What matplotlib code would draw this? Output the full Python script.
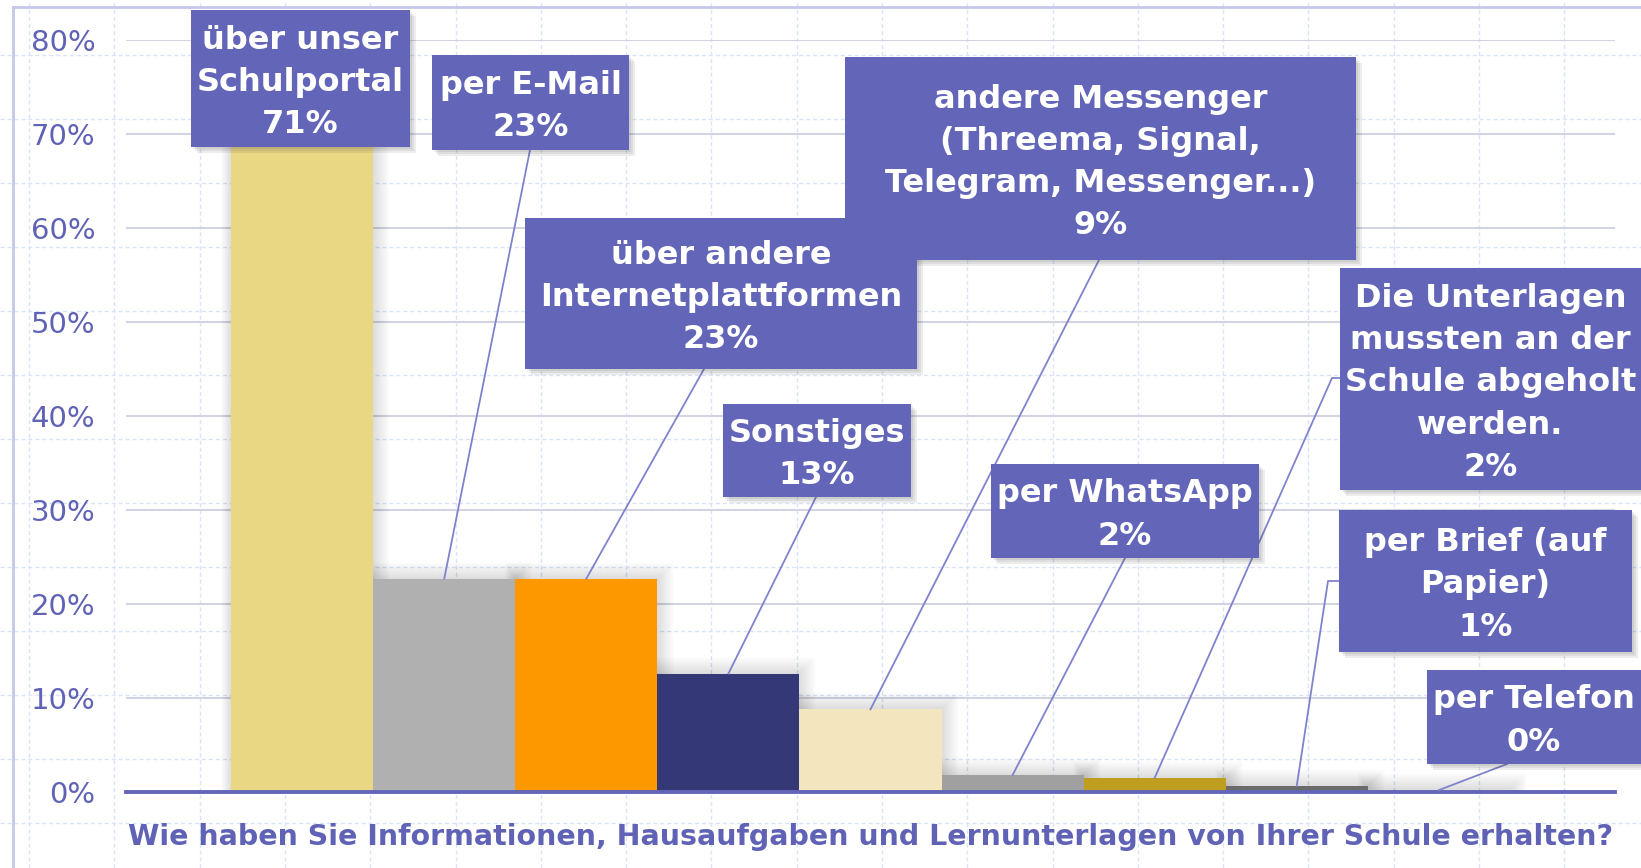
import matplotlib.pyplot as plt
from matplotlib.lines import Line2D
from matplotlib.patches import Rectangle

# -----------------------------------------------------------------------------
# DATA
# -----------------------------------------------------------------------------

categories = [
    "über unser\nSchulportal",
    "per E-Mail",
    "über andere\nInternetplattformen",
    "Sonstiges",
    "andere Messenger\n(Threema, Signal,\nTelegram, Messenger...)",
    "per WhatsApp",
    "Die Unterlagen\nmussten an der\nSchule abgeholt\nwerden.",
    "per Brief (auf\nPapier)",
    "per Telefon",
]
values = [71.0, 22.7, 22.7, 12.6, 8.8, 1.8, 1.5, 0.65, 0.2]
pct_labels = ["71%", "23%", "23%", "13%", "9%", "2%", "2%", "1%", "0%"]
y_ticks = [0, 10, 20, 30, 40, 50, 60, 70, 80]
title = "Wie haben Sie Informationen, Hausaufgaben und Lernunterlagen von Ihrer Schule erhalten?"

# -----------------------------------------------------------------------------
# STYLE / LAYOUT (pixel coords, origin top-left, 1641 x 868)
# -----------------------------------------------------------------------------

W, H = 1641, 868
BAR_COLORS = ["#EAD783", "#B0B0B0", "#FD9800", "#343877", "#F3E6BF",
              "#A0A0A0", "#BF9D1E", "#6B6B6B", "#EBD99A"]
COLOR_BOX = "#6366B8"
COLOR_TEXT = "#6063B5"
COLOR_LEADER = "#7F83CC"
COLOR_GRID = "#D2D3E3"
COLOR_BG_GRID = "#DAE3F7"
FONT = "DejaVu Sans"

# label boxes (x0, y0, x1, y1)
boxes = [
    (191, 10, 410, 147),
    (432, 55, 629, 150),
    (525, 218, 917, 369),
    (723, 404, 911, 497),
    (845, 57, 1356, 260),
    (991, 464, 1259, 558),
    (1340, 268, 1650, 490),
    (1339, 510, 1632, 652),
    (1427, 670, 1650, 764),
]
# leader start on box, optional elbow point
leaders = [
    None,
    [(530, 150)],
    [(704, 369)],
    [(816, 497)],
    [(1099, 260)],
    [(1125, 558)],
    [(1340, 378), (1332, 378)],
    [(1339, 581), (1328, 581)],
    [(1507, 764)],
]


def fx(x):
    return x / W


def fy(y):
    return 1 - y / H


fig = plt.figure(figsize=(W / 100, H / 100), dpi=100)
fig.patch.set_facecolor("white")

# slide background: dashed light-blue grid
x = 29.0
while x < W:
    fig.add_artist(Line2D([fx(x), fx(x)], [0, 1], color=COLOR_BG_GRID,
                          lw=1, ls=(0, (3, 2)), zorder=0))
    x += 85.3
y = -9.0
while y < H:
    fig.add_artist(Line2D([0, 1], [fy(y), fy(y)], color=COLOR_BG_GRID,
                          lw=1, ls=(0, (3, 2)), zorder=0))
    y += 64
# plot area frame
fig.add_artist(Line2D([fx(13), fx(13)], [fy(7), 0], color="#C5C8EA", lw=2, zorder=0))
fig.add_artist(Line2D([fx(13), 1], [fy(7), fy(7)], color="#C5C8EA", lw=2, zorder=0))

# -----------------------------------------------------------------------------
# AXES + BARS
# -----------------------------------------------------------------------------

ax = fig.add_axes([fx(126), fy(792), (1615 - 126) / W, (792 - 40) / H])
ax.patch.set_alpha(0)
xs = list(range(len(values)))

# soft shadow behind bars
for k in range(1, 18):
    for i, v in zip(xs, values):
        dx = k / 142
        dy = k / 9.4
        ax.add_patch(Rectangle((i - 0.5 - dx * 0.6, 0), 1 + dx * 1.6, v + dy,
                               facecolor="#808080", alpha=0.014, lw=0, zorder=1))

ax.bar(xs, values, width=1.0, color=BAR_COLORS, zorder=2)

ax.set_xlim(-1.24, 9.24)
ax.set_ylim(0, 80)
ax.set_xticks([])
ax.set_yticks(y_ticks)
ax.set_yticklabels([f"{t}%" for t in y_ticks], color=COLOR_TEXT, fontsize=21,
                   family="DejaVu Sans")
ax.tick_params(axis="y", length=0, pad=22)
ax.yaxis.grid(True, color=COLOR_GRID, lw=1.5, zorder=0)
ax.set_axisbelow(True)
for s in ["top", "left", "right"]:
    ax.spines[s].set_visible(False)
ax.spines["bottom"].set_color(COLOR_BOX)
ax.spines["bottom"].set_linewidth(2.8)
ax.spines["bottom"].set_zorder(3)

# -----------------------------------------------------------------------------
# LABEL BOXES + LEADERS
# -----------------------------------------------------------------------------

to_fig = fig.transFigure.inverted()

for i, (cat, v, pct) in enumerate(zip(categories, values, pct_labels)):
    x0, y0, x1, y1 = boxes[i]

    # leader line to bar top
    if leaders[i]:
        top = to_fig.transform(ax.transData.transform((i, v)))
        px = [fx(p[0]) for p in leaders[i]] + [top[0]]
        py = [fy(p[1]) for p in leaders[i]] + [top[1]]
        fig.add_artist(Line2D(px, py, color=COLOR_LEADER, lw=1.3, zorder=4))

    # drop shadow
    for k in (2, 4, 6):
        fig.add_artist(Rectangle((fx(x0 + k), fy(y1 + k)), (x1 - x0) / W, (y1 - y0) / H,
                                 facecolor="#404040", alpha=0.09, lw=0, zorder=5))
    fig.add_artist(Rectangle((fx(x0), fy(y1)), (x1 - x0) / W, (y1 - y0) / H,
                             facecolor=COLOR_BOX, lw=0, zorder=6))
    fig.text(fx((x0 + min(x1, W)) / 2), fy((y0 + y1) / 2 + 4), f"{cat}\n{pct}",
             ha="center", va="center", color="white", fontsize=23,
             fontweight="bold", family=FONT, linespacing=1.46, zorder=7)

# category axis title
fig.text(fx(871), fy(837), title, ha="center", va="center", color=COLOR_TEXT,
         fontsize=20.5, fontweight="bold", family=FONT)

fig.savefig("out.png", dpi=100)
